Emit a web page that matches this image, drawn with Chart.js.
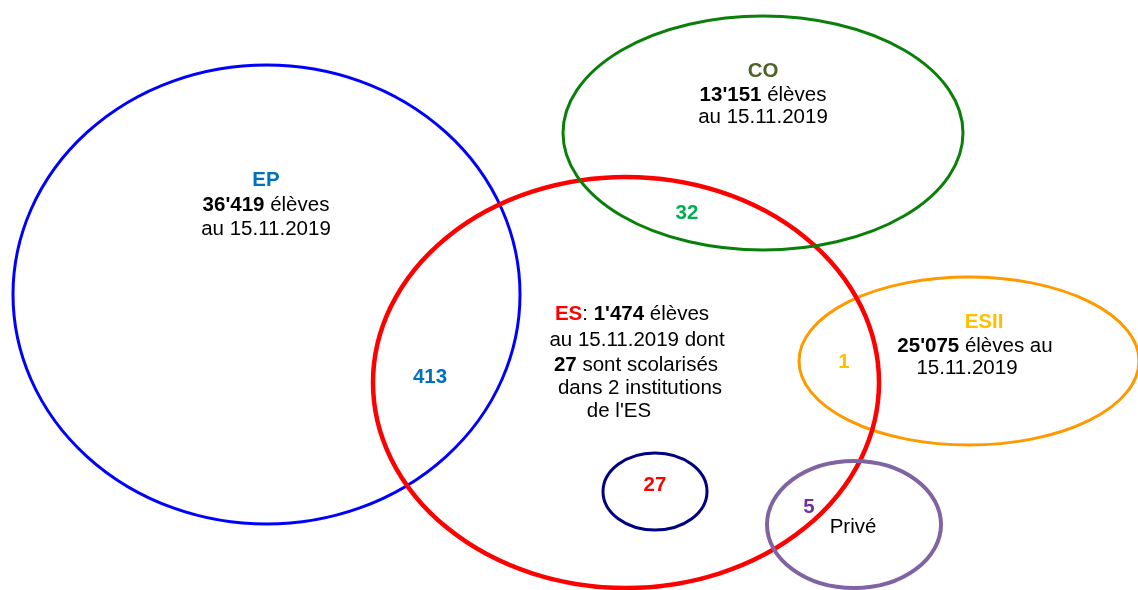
<!DOCTYPE html>
<html>
<head>
<meta charset="utf-8">
<script src="https://cdn.jsdelivr.net/npm/chart.js@4"></script>
<style>
  html, body { margin: 0; padding: 0; background: #fff; }
  #wrap { width: 1138px; height: 590px; }
</style>
</head>
<body>
<div id="wrap"><canvas id="vennChart" width="1138" height="590"></canvas></div>
<script>
// Data
const refDate = '15.11.2019';
const setNames = ['EP', 'CO', 'ES', 'ESII', 'Privé'];
const setTotals = [36419, 13151, 1474, 25075, null];
const overlapNames = ['EP-ES', 'CO-ES', 'ESII-ES', 'Privé-ES', 'ES-ES'];
const overlapCounts = [413, 32, 1, 5, 27];

// Layout (chart units, axes run 0..1138 and 0..590 top-down)
const shapes = [
    { key: 'EP', cx: 266.5, cy: 294.5, rx: 253.5, ry: 229.5, color: '#0000ff', width: 3 },
    { key: 'ESII', cx: 969, cy: 361, rx: 170, ry: 84, color: '#ff9900', width: 3 },
    { key: 'ES', cx: 626, cy: 382.5, rx: 253, ry: 205.5, color: '#ff0000', width: 4.5 },
    { key: 'CO', cx: 763, cy: 133, rx: 200, ry: 117, color: '#0a800a', width: 3 },
    { key: 'ES-ES', cx: 655, cy: 491.5, rx: 52, ry: 38.5, color: '#000080', width: 3 },
    { key: 'Privé', cx: 854, cy: 524.5, rx: 87, ry: 63.5, color: '#8064a2', width: 4 }
];

function fmt(n) {
    return String(n).replace(/\B(?=(\d{3})+(?!\d))/g, "'");
}
function total(name) { return fmt(setTotals[setNames.indexOf(name)]); }
function overlap(name) { return fmt(overlapCounts[overlapNames.indexOf(name)]); }

const B = 'bold 20.5px "Liberation Sans", Arial, sans-serif';
const N = '20.5px "Liberation Sans", Arial, sans-serif';

// each label: x, y, list of [text, font, color]
const textBlocks = [
    { x: 266, y: 180, parts: [['EP', B, '#0070c0']] },
    { x: 266, y: 205, parts: [[total('EP'), B, '#000'], [' élèves', N, '#000']] },
    { x: 266, y: 229, parts: [['au ' + refDate, N, '#000']] },

    { x: 763, y: 71, parts: [['CO', B, '#4f6228']] },
    { x: 763, y: 95, parts: [[total('CO'), B, '#000'], [' élèves', N, '#000']] },
    { x: 763, y: 117, parts: [['au ' + refDate, N, '#000']] },
    { x: 687, y: 213, parts: [[overlap('CO-ES'), B, '#00b050']] },

    { x: 632, y: 314, parts: [['ES', B, '#ff0000'], [': ', N, '#000'], [total('ES'), B, '#000'], [' élèves', N, '#000']] },
    { x: 637, y: 340, parts: [['au ' + refDate + ' dont', N, '#000']] },
    { x: 636, y: 365, parts: [[overlap('ES-ES'), B, '#000'], [' sont scolarisés', N, '#000']] },
    { x: 640, y: 388, parts: [['dans 2 institutions', N, '#000']] },
    { x: 619, y: 411, parts: [["de l'ES", N, '#000']] },
    { x: 430, y: 377, parts: [[overlap('EP-ES'), B, '#0070c0']] },

    { x: 984, y: 322, parts: [['ESII', B, '#ffc000']] },
    { x: 975, y: 346, parts: [[total('ESII'), B, '#000'], [' élèves au', N, '#000']] },
    { x: 967, y: 368, parts: [[refDate, N, '#000']] },
    { x: 844, y: 362, parts: [[overlap('ESII-ES'), B, '#ffc000']] },

    { x: 655, y: 485, parts: [[overlap('ES-ES'), B, '#ff0000']] },
    { x: 809, y: 507, parts: [[overlap('Privé-ES'), B, '#7030a0']] },
    { x: 853, y: 527, parts: [['Privé', N, '#000']] }
];

const vennPlugin = {
    id: 'venn',
    afterDatasetsDraw: function (chart) {
        const ctx = chart.ctx;
        const xs = chart.scales.x, ys = chart.scales.y;
        ctx.save();
        shapes.forEach(function (s) {
            const cx = xs.getPixelForValue(s.cx), cy = ys.getPixelForValue(s.cy);
            const rx = Math.abs(xs.getPixelForValue(s.cx + s.rx) - cx);
            const ry = Math.abs(ys.getPixelForValue(s.cy + s.ry) - cy);
            ctx.beginPath();
            ctx.ellipse(cx, cy, rx, ry, 0, 0, Math.PI * 2);
            ctx.strokeStyle = s.color;
            ctx.lineWidth = s.width;
            ctx.stroke();
        });
        ctx.textBaseline = 'middle';
        ctx.textAlign = 'left';
        textBlocks.forEach(function (t) {
            let w = 0;
            t.parts.forEach(function (p) { ctx.font = p[1]; w += ctx.measureText(p[0]).width; });
            let px = xs.getPixelForValue(t.x) - w / 2;
            const py = ys.getPixelForValue(t.y);
            t.parts.forEach(function (p) {
                ctx.font = p[1];
                ctx.fillStyle = p[2];
                ctx.fillText(p[0], px, py);
                px += ctx.measureText(p[0]).width;
            });
        });
        ctx.restore();
    }
};

const ctx = document.getElementById('vennChart').getContext('2d');
const vennChart = new Chart(ctx, {
    type: 'scatter',
    data: {
        datasets: [{
            label: 'centres',
            data: shapes.map(function (s) { return { x: s.cx, y: s.cy }; }),
            pointRadius: 0
        }]
    },
    options: {
        responsive: false,
        animation: false,
        layout: { padding: 0 },
        plugins: {
            legend: { display: false },
            tooltip: { enabled: false }
        },
        scales: {
            x: { type: 'linear', min: 0, max: 1138, display: false },
            y: { type: 'linear', min: 0, max: 590, reverse: true, display: false }
        }
    },
    plugins: [vennPlugin]
});
</script>
</body>
</html>
